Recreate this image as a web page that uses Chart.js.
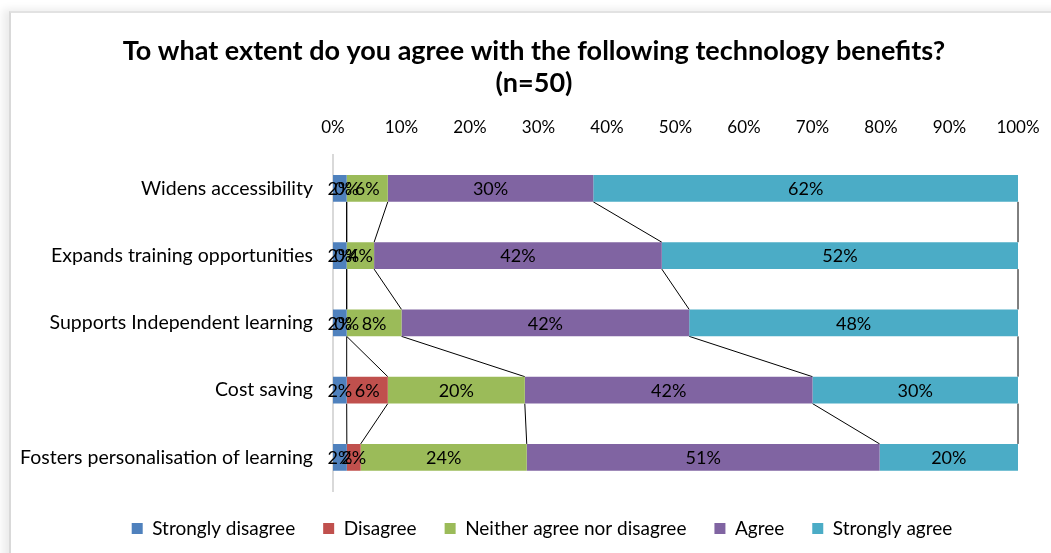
<!DOCTYPE html>
<html>
<head>
<meta charset="utf-8">
<script src="https://cdn.jsdelivr.net/npm/chart.js@4/dist/chart.umd.min.js"></script>
<style>
  html, body { margin:0; padding:0; background:#fff; }
  body { width:1051px; height:553px; position:relative; overflow:hidden; }
  #frame {
    position:absolute; left:9px; top:11px; width:1060px; height:560px;
    border-left:2px solid #d9d9d9; border-top:2px solid #e2e2e2;
    box-shadow:-6px -2px 8px rgba(0,0,0,0.08);
    background:#fff;
  }
  #chart { position:absolute; left:0; top:0; }
</style>
</head>
<body>
<div id="frame"></div>
<canvas id="chart" width="1051" height="553"></canvas>
<script>
const categories = [
  'Widens accessibility',
  'Expands training opportunities',
  'Supports Independent learning',
  'Cost saving',
  'Fosters personalisation of learning'
];
const stronglyDisagree = [2, 2, 2, 2, 2];
const disagree         = [0, 0, 0, 6, 2];
const neither          = [6, 4, 8, 20, 24];
const agree            = [30, 42, 42, 42, 51];
const stronglyAgree    = [62, 52, 48, 30, 20];
const xTicks = [0, 10, 20, 30, 40, 50, 60, 70, 80, 90, 100];

const series = [
  { label:'Strongly disagree',          values:stronglyDisagree, color:'#4f81bd' },
  { label:'Disagree',                   values:disagree,         color:'#c0504d' },
  { label:'Neither agree nor disagree', values:neither,          color:'#9bbb59' },
  { label:'Agree',                      values:agree,            color:'#8064a2' },
  { label:'Strongly agree',             values:stronglyAgree,    color:'#4bacc6' }
];

// 100% stacked: each row is scaled by its own total
const totals = categories.map((_, i) => series.reduce((s, d) => s + d.values[i], 0));

const FONT = 'Lato, "Open Sans", sans-serif';

// labels in the middle of every segment, showing the raw answer share
const segmentLabels = {
  id:'segmentLabels',
  afterDatasetsDraw(chart) {
    const ctx = chart.ctx;
    ctx.save();
    ctx.font = `18px ${FONT}`;
    ctx.fillStyle = '#000';
    ctx.textAlign = 'center';
    ctx.textBaseline = 'middle';
    chart.data.datasets.forEach((ds, di) => {
      chart.getDatasetMeta(di).data.forEach((bar, i) => {
        const cx = (bar.x + bar.base) / 2;
        ctx.fillText(ds.raw[i] + '%', cx, bar.y + 1);
      });
    });
    ctx.restore();
  }
};

// Excel-style series lines joining segment ends of neighbouring bars
const seriesLines = {
  id:'seriesLines',
  beforeDatasetsDraw(chart) {
    const ctx = chart.ctx;
    ctx.save();
    ctx.strokeStyle = '#000';
    ctx.lineWidth = 1;
    chart.data.datasets.forEach((ds, di) => {
      const bars = chart.getDatasetMeta(di).data;
      for (let i = 0; i < bars.length - 1; i++) {
        const a = bars[i], b = bars[i + 1];
        ctx.beginPath();
        ctx.moveTo(a.x, a.y + a.height / 2);
        ctx.lineTo(b.x, b.y - b.height / 2);
        ctx.stroke();
      }
    });
    ctx.restore();
  }
};

// title and legend sit centred on the frame rather than on the canvas
const centreBlocks = {
  id:'centreBlocks',
  afterLayout(chart) {
    const move = (box, dx) => { if (box) { box.left += dx; box.right += dx; } };
    move(chart.titleBlock, 15);
    move(chart.legend, 23);
  }
};

new Chart(document.getElementById('chart'), {
  type:'bar',
  data:{
    labels:categories,
    datasets:series.map(s => ({
      label:s.label,
      raw:s.values,
      data:s.values.map((v, i) => v / totals[i] * 100),
      backgroundColor:s.color,
      borderWidth:0,
      barPercentage:0.4,
      categoryPercentage:1
    }))
  },
  options:{
    indexAxis:'y',
    responsive:false,
    animation:false,
    layout:{ padding:{ left:20, right:33, top:15, bottom:5 } },
    scales:{
      x:{
        position:'top',
        stacked:true,
        min:0, max:100,
        afterBuildTicks:axis => { axis.ticks = xTicks.map(v => ({ value:v })); },
        afterFit:scale => { scale.height = 55; scale.paddingLeft = 0; scale.paddingRight = 0; },
        grid:{ display:false, drawTicks:false },
        border:{ display:false },
        ticks:{ padding:17, color:'#000', font:{ family:FONT, size:17 }, callback:v => v + '%', maxRotation:0 }
      },
      y:{
        stacked:true,
        afterFit:scale => { scale.width = 313; },
        grid:{ display:false, drawTicks:false },
        border:{ display:true, color:'#d9d9d9', width:2 },
        ticks:{ padding:20, color:'#000', font:{ family:FONT, size:19.5 } }
      }
    },
    plugins:{
      title:{
        display:true,
        text:['To what extent do you agree with the following technology benefits?', '(n=50)'],
        color:'#000',
        font:{ family:FONT, size:27, weight:'bold', lineHeight:1.2 },
        padding:{ top:20, bottom:0 }
      },
      legend:{
        position:'bottom',
        labels:{ boxWidth:11, boxHeight:11, color:'#000', padding:28, font:{ family:FONT, size:19 } }
      },
      tooltip:{ enabled:false }
    }
  },
  plugins:[seriesLines, segmentLabels, centreBlocks]
});
</script>
</body>
</html>
